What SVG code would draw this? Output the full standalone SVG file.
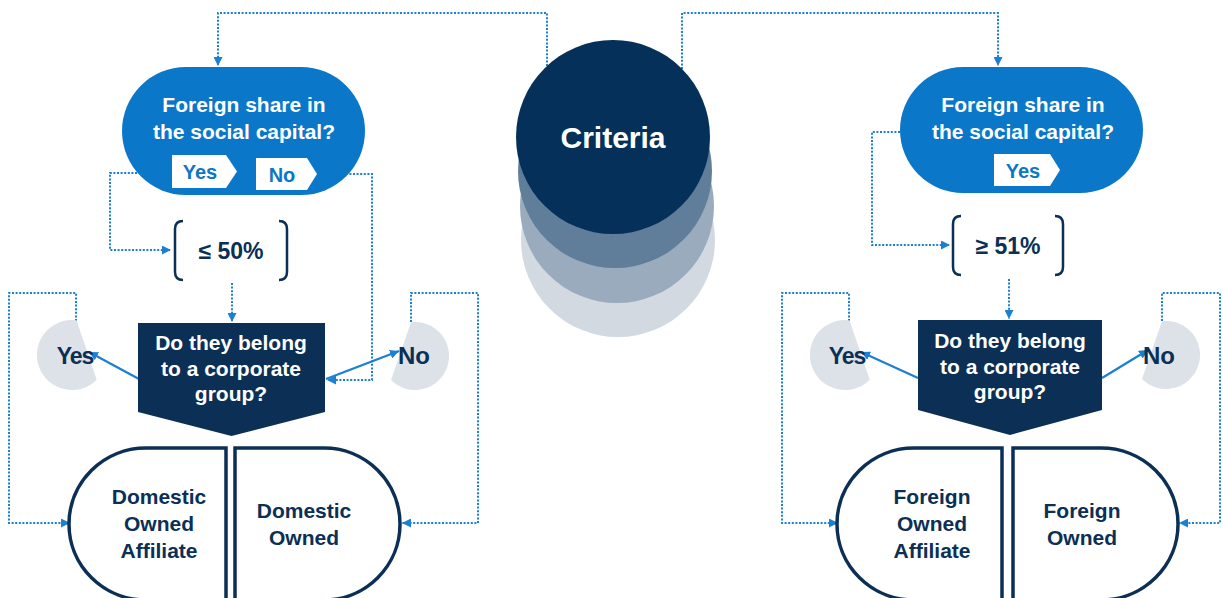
<svg xmlns="http://www.w3.org/2000/svg" width="1223" height="598" viewBox="0 0 1223 598">
<defs>
<style>
.t{font-family:"Liberation Sans",Arial,sans-serif;font-weight:bold;text-anchor:middle}
.w{fill:#ffffff}
.n{fill:#0b2f55}
.b{fill:#0a77c8}
.dot{fill:none;stroke:#1b7fd2;stroke-width:2;stroke-dasharray:2 1.6}
.sol{fill:none;stroke:#1b7fd2;stroke-width:2.2}
.pill{fill:#0a77c8}
.box{fill:#0b2f55}
.gc{fill:#dde2e8}
.half{fill:#ffffff;stroke:#0b2f55;stroke-width:3.5}
.brk{fill:none;stroke:#0b2f55;stroke-width:2.5}
</style>
<marker id="arr" viewBox="0 0 10 10" refX="10" refY="5" markerWidth="9" markerHeight="9" markerUnits="userSpaceOnUse" orient="auto">
<path d="M0,0 L10,5 L0,10 z" fill="#1b7fd2"/>
</marker>
</defs>
<rect width="1223" height="598" fill="#ffffff"/>

<g id="connectors">
<path class="dot" d="M547 66 V13 H218 V66" marker-end="url(#arr)"/>
<path class="dot" d="M682 69 V13 H998 V66" marker-end="url(#arr)"/>
<path class="dot" d="M137 173 H110 V250 H171" marker-end="url(#arr)"/>
<path class="dot" d="M317 174 H372 V380 H327" marker-end="url(#arr)"/>
<path class="dot" d="M232 283 V322" marker-end="url(#arr)"/>
<path class="dot" d="M900 132 H872 V245 H950" marker-end="url(#arr)"/>
<path class="dot" d="M1009 279 V319" marker-end="url(#arr)"/>
<path class="dot" d="M76 321 V293 H9 V523 H70" marker-end="url(#arr)"/>
<path class="dot" d="M411 322 V293 H478 V523 H402" marker-end="url(#arr)"/>
<path class="dot" d="M849 321 V293 H782 V523 H838" marker-end="url(#arr)"/>
<path class="dot" d="M1162 321 V293 H1220 V523 H1179" marker-end="url(#arr)"/>
<path class="sol" d="M139 379 L89 352" marker-end="url(#arr)"/>
<path class="sol" d="M326 379 L399 351" marker-end="url(#arr)"/>
<path class="sol" d="M918 378 L861 352" marker-end="url(#arr)"/>
<path class="sol" d="M1102 378 L1148 350" marker-end="url(#arr)"/>
</g>

<g id="criteria">
<circle cx="618" cy="240" r="97" fill="#d2d9e1"/>
<circle cx="617" cy="206" r="97" fill="#9aabbd"/>
<circle cx="615" cy="171" r="97" fill="#607d99"/>
<circle cx="613" cy="137" r="97" fill="#05305a"/>
<text class="t w" x="613" y="148" font-size="30">Criteria</text>
</g>

<g id="left-question">
<rect class="pill" x="122" y="67" width="243" height="128" rx="64"/>
<text class="t w" x="244" y="112" font-size="21">Foreign share in</text>
<text class="t w" x="244" y="139" font-size="21">the social capital?</text>
<path d="M172 155 H226 L237 171.5 L226 188 H172 Z" fill="#ffffff"/>
<text class="t b" x="200" y="179" font-size="20">Yes</text>
<path d="M256 158 H307 L317 174 L307 190 H256 Z" fill="#ffffff"/>
<text class="t b" x="282" y="182" font-size="20">No</text>
</g>

<g id="right-question">
<rect class="pill" x="900" y="67" width="243" height="126" rx="63"/>
<text class="t w" x="1023" y="112" font-size="21">Foreign share in</text>
<text class="t w" x="1023" y="139" font-size="21">the social capital?</text>
<path d="M994 154 H1050 L1060 170 L1050 186 H994 Z" fill="#ffffff"/>
<text class="t b" x="1023" y="178" font-size="20">Yes</text>
</g>

<g id="left-threshold">
<path class="brk" d="M183 221 Q175 221 175 229 V272 Q175 280 183 280"/>
<path class="brk" d="M279 221 Q287 221 287 229 V272 Q287 280 279 280"/>
<text class="t n" x="231" y="259" font-size="23">≤ 50%</text>
</g>

<g id="right-threshold">
<path class="brk" d="M961 216 Q953 216 953 224 V267 Q953 275 961 275"/>
<path class="brk" d="M1055 216 Q1063 216 1063 224 V267 Q1063 275 1055 275"/>
<text class="t n" x="1008" y="254" font-size="23">≥ 51%</text>
</g>

<g id="left-group-question">
<path class="box" d="M138 323 H325 V412 L231.5 436 L138 412 Z"/>
<text class="t w" x="231" y="350" font-size="21">Do they belong</text>
<text class="t w" x="231" y="376" font-size="21">to a corporate</text>
<text class="t w" x="231" y="401" font-size="21">group?</text>
</g>

<g id="right-group-question">
<path class="box" d="M918 320 H1102 V410 L1010 435 L918 410 Z"/>
<text class="t w" x="1010" y="348" font-size="21">Do they belong</text>
<text class="t w" x="1010" y="374" font-size="21">to a corporate</text>
<text class="t w" x="1010" y="399" font-size="21">group?</text>
</g>

<g id="left-yes">
<path class="gc" d="M76.5 320.3 A35 35 0 1 0 96.7 379.7 Z"/>
<text class="t n" x="75" y="364" font-size="23" letter-spacing="-1">Yes</text>
</g>
<g id="left-no">
<path class="gc" d="M411 322.2 A34 34 0 1 1 391 380 Z"/>
<text class="t n" x="414" y="364" font-size="24">No</text>
</g>
<g id="right-yes">
<path class="gc" d="M849.5 320.3 A35 35 0 1 0 869.7 379.7 Z"/>
<text class="t n" x="847" y="364" font-size="23" letter-spacing="-1">Yes</text>
</g>
<g id="right-no">
<path class="gc" d="M1162 321.2 A34 34 0 1 1 1142 379 Z"/>
<text class="t n" x="1159" y="364" font-size="24">No</text>
</g>

<g id="domestic-owned-affiliate">
<path class="half" d="M226 448 H146 A76 75 0 0 0 146 600 H226 Z"/>
<text class="t n" x="159" y="504" font-size="21">Domestic</text>
<text class="t n" x="159" y="531" font-size="21">Owned</text>
<text class="t n" x="159" y="558" font-size="21">Affiliate</text>
</g>
<g id="domestic-owned">
<path class="half" d="M235 448 H324 A75 75 0 0 1 324 600 H235 Z"/>
<text class="t n" x="304" y="518" font-size="21">Domestic</text>
<text class="t n" x="304" y="545" font-size="21">Owned</text>
</g>
<g id="foreign-owned-affiliate">
<path class="half" d="M1002 448 H914 A76 75 0 0 0 914 600 H1002 Z"/>
<text class="t n" x="932" y="504" font-size="21">Foreign</text>
<text class="t n" x="932" y="531" font-size="21">Owned</text>
<text class="t n" x="932" y="558" font-size="21">Affiliate</text>
</g>
<g id="foreign-owned">
<path class="half" d="M1013 448 H1101 A76 75 0 0 1 1101 600 H1013 Z"/>
<text class="t n" x="1082" y="518" font-size="21">Foreign</text>
<text class="t n" x="1082" y="545" font-size="21">Owned</text>
</g>
</svg>
